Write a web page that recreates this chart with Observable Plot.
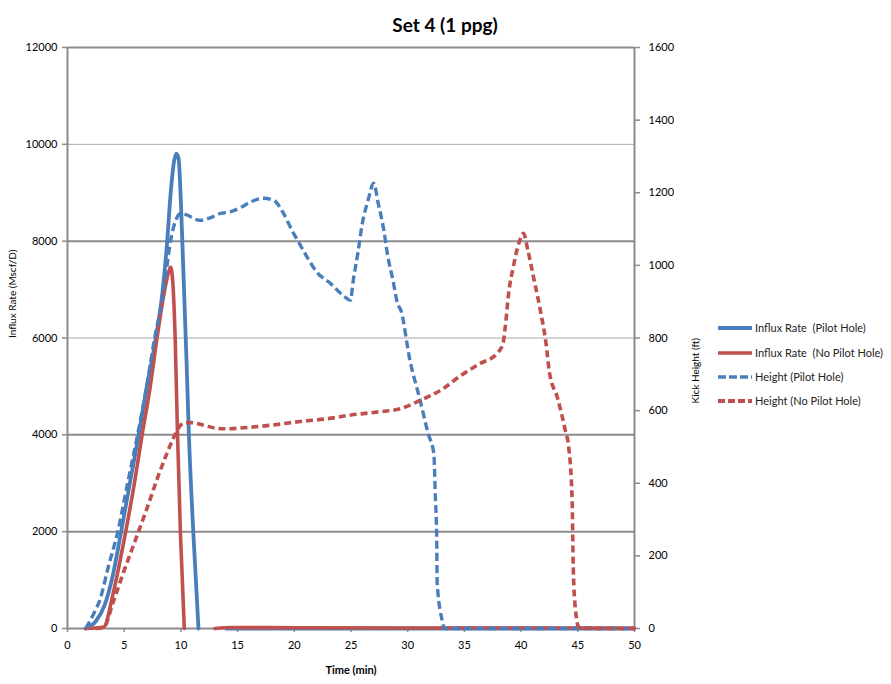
<!DOCTYPE html>
<html>
<head>
<meta charset="utf-8">
<script src="https://cdn.jsdelivr.net/npm/d3@7"></script>
<script src="https://cdn.jsdelivr.net/npm/@observablehq/plot@0.6"></script>
<style>
  html, body { margin: 0; padding: 0; background: #fff; }
  #chart { position: relative; width: 891px; height: 684px; font-family: Lato, "Open Sans", sans-serif; }
</style>
</head>
<body>
<div id="chart"></div>
<script>
const title = "Set 4 (1 ppg)";
const xLabel = "Time (min)";
const yLeftLabel = "Influx Rate (Mscf/D)";
const yRightLabel = "Kick Height (ft)";
const xTicks = [0, 5, 10, 15, 20, 25, 30, 35, 40, 45, 50];
const leftTicks = [0, 2000, 4000, 6000, 8000, 10000, 12000];
const rightTicks = [0, 200, 400, 600, 800, 1000, 1200, 1400, 1600];
const seriesNames = ["Influx Rate  (Pilot Hole)", "Influx Rate  (No Pilot Hole)", "Height (Pilot Hole)", "Height (No Pilot Hole)"];

// [time (min), influx rate (Mscf/D)]
const influxPilot = [
  [1.6, 0], [2.5, 150], [3.3, 500], [4.0, 1100], [4.7, 1960], [5.5, 3000], [6.3, 4030],
  [7.0, 5000], [7.8, 6010], [8.4, 7000], [8.8, 8020], [9.1, 9000], [9.4, 9650], [9.6, 9810],
  [9.8, 9700], [10.0, 8800], [10.2, 7500], [10.5, 5500], [10.7, 4030], [11.1, 1960], [11.55, 0],
  [12.5, NaN], [14, 0], [50, 0]
];
const influxNoPilot = [
  [1.6, 0], [2.5, 10], [3.2, 30], [4.0, 700], [5.1, 1960], [5.9, 3000], [6.6, 4030],
  [7.3, 5000], [7.9, 6010], [8.5, 6900], [8.9, 7350], [9.1, 7460], [9.3, 7100], [9.5, 5950],
  [9.7, 4030], [9.96, 1960], [10.3, 0], [11.5, NaN], [13.0, 0], [14.5, 20], [20, 15], [30, 10], [40, 10], [50, 5]
];
// [time (min), kick height (ft)]
const heightPilot = [
  [1.6, 0], [2.3, 40], [2.9, 83], [3.6, 170], [4.4, 262], [5.3, 400], [6.2, 537], [7.0, 670],
  [7.7, 802], [8.2, 880], [8.6, 959], [9.1, 1069], [9.5, 1120], [10.0, 1143], [10.6, 1138],
  [11.2, 1128], [11.7, 1124], [12.5, 1130], [13.5, 1143], [14.4, 1148], [15.3, 1160], [16.1, 1174],
  [17.3, 1185], [18.2, 1179], [19.0, 1146], [19.8, 1096], [20.4, 1063], [21.2, 1019], [22.0, 981],
  [23.2, 950], [24.3, 917], [24.95, 904], [25.2, 959], [25.6, 1033], [26.0, 1116], [26.5, 1179],
  [27.0, 1226], [27.4, 1171], [27.9, 1096], [28.2, 1033], [28.7, 959], [29.1, 895], [29.4, 876],
  [30.2, 738], [31.1, 628], [31.8, 537], [32.3, 482], [32.45, 353], [32.55, 262], [32.6, 124],
  [33.1, 14], [33.2, 0], [40, 0], [50, 0]
];
const heightNoPilot = [
  [2.5, 0], [3.2, 3], [4.0, 70], [5.0, 160], [6.0, 245], [7.0, 330], [8.0, 420], [8.8, 485],
  [9.35, 525], [9.8, 553], [10.3, 566], [10.8, 567], [12, 560],
  [13, 552], [14, 550], [16, 554], [18, 560], [20.5, 570], [23, 578], [25, 588], [27, 595],
  [29.4, 606], [31.1, 628], [32.9, 656], [34.7, 697], [36.4, 730], [37.9, 758], [38.4, 785],
  [38.6, 829], [38.9, 923], [39.3, 994], [39.8, 1061], [40.2, 1088], [40.6, 1041], [41.1, 967],
  [41.7, 876], [42.2, 785], [42.5, 705], [43.2, 636], [43.9, 545], [44.2, 499], [44.5, 353],
  [44.6, 168], [44.8, 50], [45.1, 3], [47, 0], [50, 0]
];

const blue = "#4a7ebb";
const red = "#c0504d";
const k = 12000 / 1600; // right-axis to left-axis factor

const toRows = (arr, scale = 1) => arr.map(([t, v]) => ({t, v: v * scale}));
const heavyGrid = leftTicks.filter(v => v % 4000 !== 2000 || v === 2000);
const lightGrid = leftTicks.filter(v => !heavyGrid.includes(v));

const plot = Plot.plot({
  width: 891,
  height: 684,
  marginLeft: 67,
  marginRight: 257,
  marginTop: 47,
  marginBottom: 56,
  style: {fontFamily: "Lato, 'Open Sans', sans-serif", fontSize: "11px", color: "#000", background: "#fff"},
  x: {domain: [0, 50]},
  y: {domain: [0, 12000]},
  marks: [
    Plot.ruleY(lightGrid, {stroke: "#a8a8a8", strokeWidth: 1}),
    Plot.ruleY(heavyGrid, {stroke: "#8c8c8c", strokeWidth: 2}),
    Plot.ruleX([0, 50], {stroke: "#8c8c8c", strokeWidth: 2}),
    Plot.axisY({ticks: leftTicks, tickFormat: d => String(d), tickSize: 5, tickPadding: 5, stroke: "#8c8c8c", strokeWidth: 1.5, label: null}),
    Plot.axisY({anchor: "right", ticks: rightTicks.map(v => v * k), tickFormat: d => String(Math.round(d / k)), tickSize: 5, tickPadding: 9, stroke: "#8c8c8c", strokeWidth: 1.5, label: null}),
    Plot.axisX({ticks: xTicks, tickFormat: d => String(d), tickSize: 4, tickPadding: 9, stroke: "#8c8c8c", strokeWidth: 1.5, label: null}),
    Plot.text([xLabel], {text: d => d, frameAnchor: "bottom", dy: 45, fontWeight: "bold", fontSize: 11}),
    Plot.text([yLeftLabel], {text: d => d, frameAnchor: "left", dx: -55, rotate: -90, fontSize: 10}),
    Plot.text([yRightLabel], {text: d => d, frameAnchor: "right", dx: 61, rotate: -90, fontSize: 10}),
    Plot.text([title], {text: d => d, frameAnchor: "top", dx: 94, dy: -29, fontWeight: "bold", fontSize: 19}),
    Plot.line(toRows(influxPilot), {x: "t", y: "v", stroke: blue, strokeWidth: 3.8, curve: "monotone-x"}),
    Plot.line(toRows(influxNoPilot), {x: "t", y: "v", stroke: red, strokeWidth: 3.6, curve: "monotone-x"}),
    Plot.line(toRows(heightPilot, k), {x: "t", y: "v", stroke: blue, strokeWidth: 3.4, strokeDasharray: "8 4", curve: "monotone-x"}),
    Plot.line(toRows(heightNoPilot, k), {x: "t", y: "v", stroke: red, strokeWidth: 3.6, strokeDasharray: "7 4", curve: "monotone-x"})
  ]
});

document.getElementById("chart").appendChild(plot);

const svg = d3.select(plot);
// make sure dash patterns are applied on the height line paths (3rd and 4th line marks)
const lineGroups = svg.selectAll("g[aria-label='line']").nodes();
if (lineGroups.length === 4) {
  d3.select(lineGroups[2]).selectAll("path").attr("stroke-dasharray", "8 4").attr("stroke-linecap", "butt");
  d3.select(lineGroups[3]).selectAll("path").attr("stroke-dasharray", "7 4").attr("stroke-linecap", "butt");
}

// Legend
const legend = svg.append("g")
  .attr("font-family", "Lato, 'Open Sans', sans-serif")
  .attr("font-size", 11)
  .attr("text-anchor", "start");
const styles = [
  {stroke: blue, w: 4, dash: null},
  {stroke: red, w: 3.5, dash: null},
  {stroke: blue, w: 3.3, dash: "8 3"},
  {stroke: red, w: 4, dash: "7 3"}
];
const rowsY = [328, 353, 377, 401];
seriesNames.forEach((name, i) => {
  const s = styles[i];
  legend.append("line").attr("x1", 718).attr("x2", 752).attr("y1", rowsY[i]).attr("y2", rowsY[i])
    .attr("stroke", s.stroke).attr("stroke-width", s.w).attr("stroke-dasharray", s.dash);
  legend.append("text").attr("x", 755).attr("y", rowsY[i]).attr("dy", "0.35em")
    .attr("text-anchor", "start").attr("fill", "#222").text(name);
});
</script>
</body>
</html>
